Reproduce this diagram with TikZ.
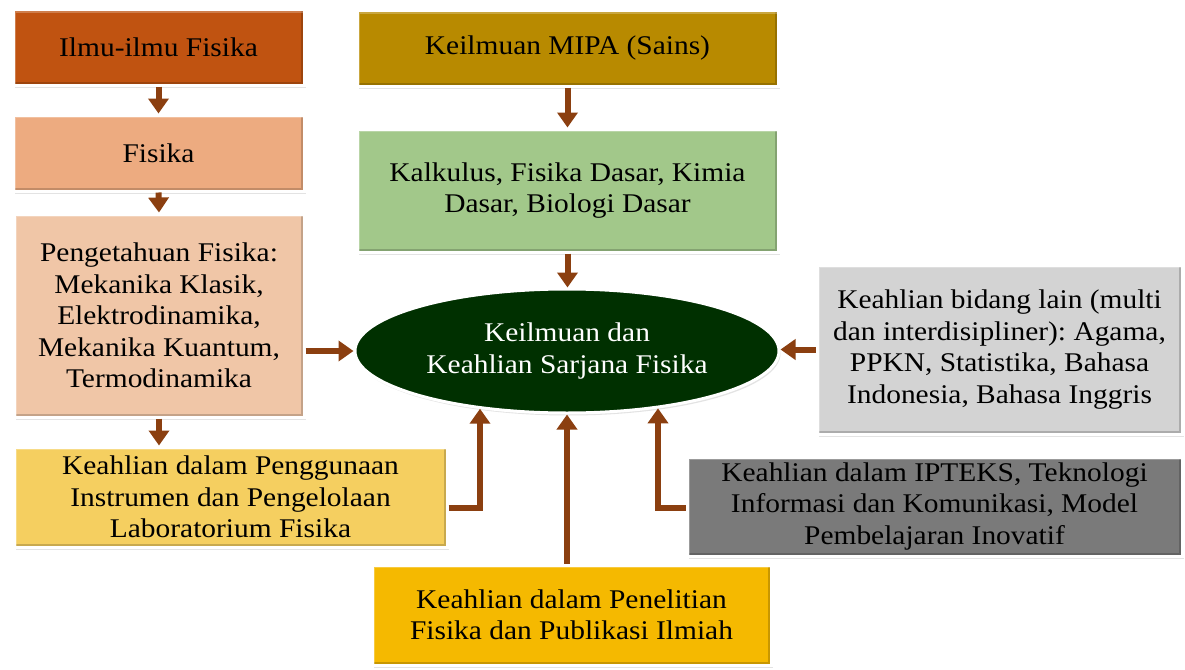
\documentclass[tikz,border=0pt]{standalone}
\usepackage{fontspec}
\setmainfont[FakeStretch=1.09]{Liberation Serif}
\frenchspacing
\usetikzlibrary{arrows.meta,shadows,shapes.geometric}
\definecolor{cA}{RGB}{192,83,17}
\definecolor{cB}{RGB}{237,171,128}
\definecolor{cC}{RGB}{240,198,167}
\definecolor{cD}{RGB}{245,207,96}
\definecolor{cE}{RGB}{184,138,0}
\definecolor{cF}{RGB}{162,200,138}
\definecolor{cG}{RGB}{211,211,211}
\definecolor{cH}{RGB}{122,122,122}
\definecolor{cI}{RGB}{245,185,0}
\definecolor{cEll}{RGB}{0,48,0}
\definecolor{arr}{RGB}{139,63,16}
\tikzset{
  txt/.style={font=\fontsize{27}{31.5}\selectfont},
  box/.style={rectangle, draw=white, line width=3pt, align=center, inner sep=0pt, txt,
    drop shadow={shadow xshift=1.5pt, shadow yshift=-2.5pt, opacity=0.22},
    path picture={\draw[black, opacity=0.18, line width=3pt]
      ([xshift=1.5pt,yshift=1.5pt]path picture bounding box.south west) -- ([xshift=-1.5pt,yshift=1.5pt]path picture bounding box.south east) -- ([xshift=-1.5pt,yshift=-1.5pt]path picture bounding box.north east);
      \draw[white, opacity=0.25, line width=3pt]
      ([xshift=1.5pt,yshift=1.5pt]path picture bounding box.south west) -- ([xshift=1.5pt,yshift=-1.5pt]path picture bounding box.north west) -- ([xshift=-1.5pt,yshift=-1.5pt]path picture bounding box.north east);}},
  conn/.style={draw=arr, line width=6pt, -{Triangle[width=20pt,length=15pt]}}
}
\begin{document}
\begin{tikzpicture}[x=1pt,y=-1pt]
\useasboundingbox[fill=white] (0,0) rectangle (1185,669);
\node[box, fill=cA, minimum width=291pt, minimum height=75pt] (b1) at (158.5,47.5) {Ilmu-ilmu Fisika};
\node[box, fill=cB, minimum width=291pt, minimum height=76pt] (b2) at (158.5,153) {Fisika};
\node[box, fill=cC, minimum width=290pt, minimum height=203pt] (b3) at (159,315.5) {Pengetahuan Fisika:\\Mekanika Klasik,\\Elektrodinamika,\\Mekanika Kuantum,\\Termodinamika};
\node[box, fill=cD, minimum width=433pt, minimum height=100pt] (b4) at (230.5,497) {Keahlian dalam Penggunaan\\Instrumen dan Pengelolaan\\Laboratorium Fisika};
\node[box, fill=cE, minimum width=421pt, minimum height=75pt] (mipa) at (567.5,48.5) {Keilmuan MIPA (Sains)};
\node[box, fill=cF, minimum width=421pt, minimum height=123pt] (grn) at (567.5,190.5) {Kalkulus, Fisika Dasar, Kimia\\Dasar, Biologi Dasar};
\node[box, fill=cG, minimum width=365pt, minimum height=169pt] (lg) at (999.5,349.5) {Keahlian bidang lain (multi\\dan interdisipliner): Agama,\\PPKN, Statistika, Bahasa\\Indonesia, Bahasa Inggris};
\node[box, fill=cH, minimum width=495pt, minimum height=99pt] (dg) at (934.5,506.5) {Keahlian dalam IPTEKS, Teknologi\\Informasi dan Komunikasi, Model\\Pembelajaran Inovatif};
\node[box, fill=cI, minimum width=399pt, minimum height=100pt] (bot) at (571.5,615) {Keahlian dalam Penelitian\\Fisika dan Publikasi Ilmiah};
\node[ellipse, fill=cEll, draw=white, line width=3pt, minimum width=424pt, minimum height=124pt, inner sep=0pt, align=center, text=white, txt,
  drop shadow={shadow xshift=1.5pt, shadow yshift=-2.5pt, opacity=0.22}] (ell) at (567,351) {Keilmuan dan\\Keahlian Sarjana Fisika};
\coordinate (t1) at (480,508);
\coordinate (t2) at (658,508);
\draw[conn] (b1.south) -- (b2.north);
\draw[conn] (b2.south) -- (b3.north);
\draw[conn] (b3.south) -- (b3.south |- b4.north);
\draw[conn] (mipa.south) -- (grn.north);
\draw[conn] (grn.south) -- (grn.south |- ell.north);
\draw[conn] (b3.east |- ell.west) -- (ell.west);
\draw[conn] (lg.west) -- (lg.west -| ell.east);
\draw[conn] (b4.east |- t1) -- (t1) -- (t1 |- ell.213);
\draw[conn] (dg.west |- t2) -- (t2) -- (t2 |- ell.328);
\draw[conn] (ell.south |- bot.north) -- (ell.south);
\end{tikzpicture}
\end{document}
